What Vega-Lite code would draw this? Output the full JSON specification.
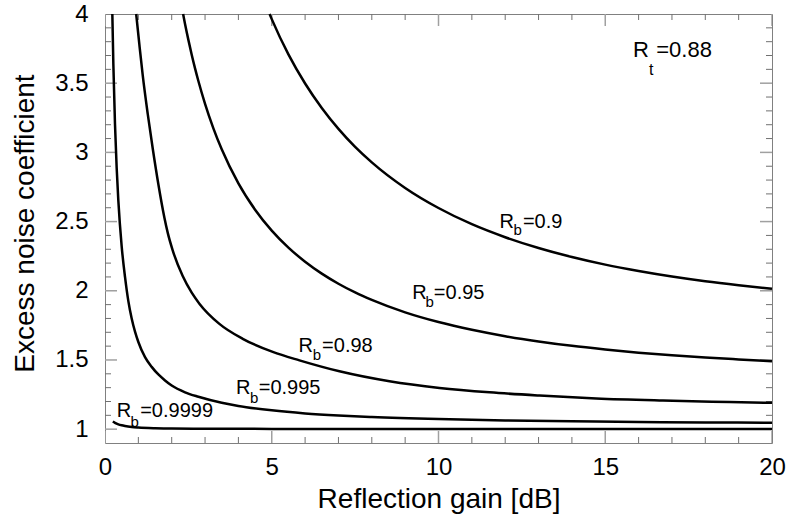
{
  "$schema": "https://vega.github.io/schema/vega-lite/v6.json",
  "width": 667,
  "height": 429,
  "autosize": {"type": "none"},
  "padding": {"left": 105, "top": 14, "right": 16, "bottom": 76},
  "background": "white",
  "config": {
    "font": "Liberation Sans",
    "view": {"stroke": "#808080", "strokeWidth": 1}
  },
  "datasets": {
    "xMajor": [{"v": 0}, {"v": 5}, {"v": 10}, {"v": 15}, {"v": 20}],
    "xMinor": [{"v": 1}, {"v": 2}, {"v": 3}, {"v": 4}, {"v": 6}, {"v": 7}, {"v": 8}, {"v": 9}, {"v": 11}, {"v": 12}, {"v": 13}, {"v": 14}, {"v": 16}, {"v": 17}, {"v": 18}, {"v": 19}],
    "yMajor": [{"v": 1}, {"v": 1.5}, {"v": 2}, {"v": 2.5}, {"v": 3}, {"v": 3.5}],
    "yMinor": [{"v": 1.1}, {"v": 1.2}, {"v": 1.3}, {"v": 1.4}, {"v": 1.6}, {"v": 1.7}, {"v": 1.8}, {"v": 1.9}, {"v": 2.1}, {"v": 2.2}, {"v": 2.3}, {"v": 2.4}, {"v": 2.6}, {"v": 2.7}, {"v": 2.8}, {"v": 2.9}, {"v": 3.1}, {"v": 3.2}, {"v": 3.3}, {"v": 3.4}, {"v": 3.6}, {"v": 3.7}, {"v": 3.8}, {"v": 3.9}],
    "curves": [
      {"Rb": "0.9", "x": 4.935, "y": 4.0},
      {"Rb": "0.9", "x": 5.0, "y": 3.963},
      {"Rb": "0.9", "x": 5.5, "y": 3.708},
      {"Rb": "0.9", "x": 6.0, "y": 3.498},
      {"Rb": "0.9", "x": 6.5, "y": 3.321},
      {"Rb": "0.9", "x": 7.0, "y": 3.17},
      {"Rb": "0.9", "x": 7.5, "y": 3.04},
      {"Rb": "0.9", "x": 8.0, "y": 2.928},
      {"Rb": "0.9", "x": 9.0, "y": 2.743},
      {"Rb": "0.9", "x": 10.0, "y": 2.598},
      {"Rb": "0.9", "x": 11.0, "y": 2.481},
      {"Rb": "0.9", "x": 12.0, "y": 2.387},
      {"Rb": "0.9", "x": 13.0, "y": 2.309},
      {"Rb": "0.9", "x": 14.0, "y": 2.244},
      {"Rb": "0.9", "x": 15.0, "y": 2.189},
      {"Rb": "0.9", "x": 16.0, "y": 2.143},
      {"Rb": "0.9", "x": 17.0, "y": 2.103},
      {"Rb": "0.9", "x": 18.0, "y": 2.069},
      {"Rb": "0.9", "x": 19.0, "y": 2.04},
      {"Rb": "0.9", "x": 20.0, "y": 2.014},
      {"Rb": "0.95", "x": 2.342, "y": 4.0},
      {"Rb": "0.95", "x": 2.4, "y": 3.928},
      {"Rb": "0.95", "x": 2.5, "y": 3.813},
      {"Rb": "0.95", "x": 2.6, "y": 3.706},
      {"Rb": "0.95", "x": 2.7, "y": 3.607},
      {"Rb": "0.95", "x": 2.8, "y": 3.516},
      {"Rb": "0.95", "x": 3.0, "y": 3.351},
      {"Rb": "0.95", "x": 3.25, "y": 3.174},
      {"Rb": "0.95", "x": 3.5, "y": 3.022},
      {"Rb": "0.95", "x": 4.0, "y": 2.776},
      {"Rb": "0.95", "x": 4.5, "y": 2.586},
      {"Rb": "0.95", "x": 5.0, "y": 2.435},
      {"Rb": "0.95", "x": 5.5, "y": 2.312},
      {"Rb": "0.95", "x": 6.0, "y": 2.21},
      {"Rb": "0.95", "x": 6.5, "y": 2.124},
      {"Rb": "0.95", "x": 7.0, "y": 2.051},
      {"Rb": "0.95", "x": 7.5, "y": 1.988},
      {"Rb": "0.95", "x": 8.0, "y": 1.934},
      {"Rb": "0.95", "x": 9.0, "y": 1.844},
      {"Rb": "0.95", "x": 10.0, "y": 1.774},
      {"Rb": "0.95", "x": 11.0, "y": 1.718},
      {"Rb": "0.95", "x": 12.0, "y": 1.672},
      {"Rb": "0.95", "x": 13.0, "y": 1.634},
      {"Rb": "0.95", "x": 14.0, "y": 1.602},
      {"Rb": "0.95", "x": 15.0, "y": 1.576},
      {"Rb": "0.95", "x": 16.0, "y": 1.553},
      {"Rb": "0.95", "x": 17.0, "y": 1.534},
      {"Rb": "0.95", "x": 18.0, "y": 1.518},
      {"Rb": "0.95", "x": 19.0, "y": 1.504},
      {"Rb": "0.95", "x": 20.0, "y": 1.491},
      {"Rb": "0.98", "x": 0.935, "y": 4.0},
      {"Rb": "0.98", "x": 1.03, "y": 3.78},
      {"Rb": "0.98", "x": 1.13, "y": 3.56},
      {"Rb": "0.98", "x": 1.28, "y": 3.28},
      {"Rb": "0.98", "x": 1.43, "y": 3.03},
      {"Rb": "0.98", "x": 1.6, "y": 2.77},
      {"Rb": "0.98", "x": 1.78, "y": 2.53},
      {"Rb": "0.98", "x": 1.88, "y": 2.42},
      {"Rb": "0.98", "x": 2.03, "y": 2.292},
      {"Rb": "0.98", "x": 2.33, "y": 2.106},
      {"Rb": "0.98", "x": 2.6, "y": 1.986},
      {"Rb": "0.98", "x": 2.83, "y": 1.907},
      {"Rb": "0.98", "x": 3.43, "y": 1.761},
      {"Rb": "0.98", "x": 4.13, "y": 1.653},
      {"Rb": "0.98", "x": 5.03, "y": 1.558},
      {"Rb": "0.98", "x": 5.83, "y": 1.497},
      {"Rb": "0.98", "x": 7.03, "y": 1.418},
      {"Rb": "0.98", "x": 8.53, "y": 1.346},
      {"Rb": "0.98", "x": 10.03, "y": 1.298},
      {"Rb": "0.98", "x": 11.53, "y": 1.266},
      {"Rb": "0.98", "x": 13.03, "y": 1.243},
      {"Rb": "0.98", "x": 14.73, "y": 1.222},
      {"Rb": "0.98", "x": 16.73, "y": 1.207},
      {"Rb": "0.98", "x": 18.73, "y": 1.196},
      {"Rb": "0.98", "x": 20.0, "y": 1.19},
      {"Rb": "0.995", "x": 0.22, "y": 4.0},
      {"Rb": "0.995", "x": 0.25, "y": 3.641},
      {"Rb": "0.995", "x": 0.3, "y": 3.201},
      {"Rb": "0.995", "x": 0.35, "y": 2.887},
      {"Rb": "0.995", "x": 0.4, "y": 2.651},
      {"Rb": "0.995", "x": 0.5, "y": 2.321},
      {"Rb": "0.995", "x": 0.6, "y": 2.1},
      {"Rb": "0.995", "x": 0.7, "y": 1.925},
      {"Rb": "0.995", "x": 0.8, "y": 1.8},
      {"Rb": "0.995", "x": 0.9, "y": 1.705},
      {"Rb": "0.995", "x": 1.0, "y": 1.63},
      {"Rb": "0.995", "x": 1.2, "y": 1.52},
      {"Rb": "0.995", "x": 1.4, "y": 1.45},
      {"Rb": "0.995", "x": 1.6, "y": 1.395},
      {"Rb": "0.995", "x": 1.8, "y": 1.352},
      {"Rb": "0.995", "x": 2.0, "y": 1.315},
      {"Rb": "0.995", "x": 2.4, "y": 1.266},
      {"Rb": "0.995", "x": 2.8, "y": 1.234},
      {"Rb": "0.995", "x": 3.5, "y": 1.191},
      {"Rb": "0.995", "x": 4.0, "y": 1.168},
      {"Rb": "0.995", "x": 5.0, "y": 1.136},
      {"Rb": "0.995", "x": 6.0, "y": 1.114},
      {"Rb": "0.995", "x": 7.0, "y": 1.099},
      {"Rb": "0.995", "x": 8.0, "y": 1.088},
      {"Rb": "0.995", "x": 10.0, "y": 1.073},
      {"Rb": "0.995", "x": 12.0, "y": 1.063},
      {"Rb": "0.995", "x": 14.0, "y": 1.057},
      {"Rb": "0.995", "x": 16.0, "y": 1.052},
      {"Rb": "0.995", "x": 18.0, "y": 1.049},
      {"Rb": "0.995", "x": 20.0, "y": 1.046},
      {"Rb": "0.9999", "x": 0.235, "y": 1.056},
      {"Rb": "0.9999", "x": 0.3, "y": 1.046},
      {"Rb": "0.9999", "x": 0.4, "y": 1.035},
      {"Rb": "0.9999", "x": 0.5, "y": 1.028},
      {"Rb": "0.9999", "x": 0.6, "y": 1.023},
      {"Rb": "0.9999", "x": 0.8, "y": 1.016},
      {"Rb": "0.9999", "x": 1.0, "y": 1.012},
      {"Rb": "0.9999", "x": 1.5, "y": 1.007},
      {"Rb": "0.9999", "x": 2.0, "y": 1.005},
      {"Rb": "0.9999", "x": 3.0, "y": 1.003},
      {"Rb": "0.9999", "x": 5.0, "y": 1.002},
      {"Rb": "0.9999", "x": 10.0, "y": 1.001},
      {"Rb": "0.9999", "x": 20.0, "y": 1.0005}
    ],
    "main": [
      {"text": "R", "x": 11.83, "y": 2.453},
      {"text": "=0.9", "x": 12.53, "y": 2.453},
      {"text": "R", "x": 9.21, "y": 1.94},
      {"text": "=0.95", "x": 9.86, "y": 1.94},
      {"text": "R", "x": 5.8, "y": 1.561},
      {"text": "=0.98", "x": 6.51, "y": 1.561},
      {"text": "R", "x": 3.93, "y": 1.255},
      {"text": "=0.995", "x": 4.61, "y": 1.255},
      {"text": "R", "x": 0.354, "y": 1.087},
      {"text": "=0.9999", "x": 1.055, "y": 1.087}
    ],
    "subs": [
      {"text": "b", "x": 12.25, "y": 2.405},
      {"text": "b", "x": 9.61, "y": 1.881},
      {"text": "b", "x": 6.23, "y": 1.501},
      {"text": "b", "x": 4.35, "y": 1.188},
      {"text": "b", "x": 0.765, "y": 1.019}
    ],
    "rtMain": [
      {"text": "R", "x": 15.83, "y": 3.69},
      {"text": "=0.88", "x": 16.53, "y": 3.69}
    ],
    "rtSub": [
      {"text": "t", "x": 16.31, "y": 3.562}
    ]
  },
  "encoding": {
    "x": {"type": "quantitative", "scale": {"domain": [0, 20], "nice": false, "zero": false}},
    "y": {"type": "quantitative", "scale": {"domain": [0.9, 4], "nice": false, "zero": false}}
  },
  "layer": [
    {
      "data": {"name": "xMajor"},
      "mark": {"type": "tick", "orient": "vertical", "color": "#a0a0a0", "thickness": 1.5, "size": 24, "clip": true, "opacity": 1},
      "encoding": {"x": {"field": "v", "type": "quantitative", "axis": null}, "y": {"datum": 0.9, "type": "quantitative", "axis": null}}
    },
    {
      "data": {"name": "xMajor"},
      "mark": {"type": "tick", "orient": "vertical", "color": "#a0a0a0", "thickness": 1.5, "size": 24, "clip": true, "opacity": 1},
      "encoding": {"x": {"field": "v", "type": "quantitative", "axis": null}, "y": {"datum": 4, "type": "quantitative", "axis": null}}
    },
    {
      "data": {"name": "xMinor"},
      "mark": {"type": "tick", "orient": "vertical", "color": "#707070", "thickness": 1, "size": 12, "clip": true, "opacity": 1},
      "encoding": {"x": {"field": "v", "type": "quantitative", "axis": null}, "y": {"datum": 0.9, "type": "quantitative", "axis": null}}
    },
    {
      "data": {"name": "xMinor"},
      "mark": {"type": "tick", "orient": "vertical", "color": "#707070", "thickness": 1, "size": 12, "clip": true, "opacity": 1},
      "encoding": {"x": {"field": "v", "type": "quantitative", "axis": null}, "y": {"datum": 4, "type": "quantitative", "axis": null}}
    },
    {
      "data": {"name": "yMajor"},
      "mark": {"type": "tick", "orient": "horizontal", "color": "#a0a0a0", "thickness": 1.5, "size": 24, "clip": true, "opacity": 1},
      "encoding": {"y": {"field": "v", "type": "quantitative", "axis": null}, "x": {"datum": 0, "type": "quantitative", "axis": null}}
    },
    {
      "data": {"name": "yMajor"},
      "mark": {"type": "tick", "orient": "horizontal", "color": "#a0a0a0", "thickness": 1.5, "size": 24, "clip": true, "opacity": 1},
      "encoding": {"y": {"field": "v", "type": "quantitative", "axis": null}, "x": {"datum": 20, "type": "quantitative", "axis": null}}
    },
    {
      "data": {"name": "yMinor"},
      "mark": {"type": "tick", "orient": "horizontal", "color": "#707070", "thickness": 1, "size": 12, "clip": true, "opacity": 1},
      "encoding": {"y": {"field": "v", "type": "quantitative", "axis": null}, "x": {"datum": 0, "type": "quantitative", "axis": null}}
    },
    {
      "data": {"name": "yMinor"},
      "mark": {"type": "tick", "orient": "horizontal", "color": "#707070", "thickness": 1, "size": 12, "clip": true, "opacity": 1},
      "encoding": {"y": {"field": "v", "type": "quantitative", "axis": null}, "x": {"datum": 20, "type": "quantitative", "axis": null}}
    },
    {
      "data": {"name": "curves"},
      "mark": {"type": "line", "color": "black", "strokeWidth": 2.5, "interpolate": "monotone"},
      "encoding": {
        "detail": {"field": "Rb", "type": "nominal"},
        "x": {
          "field": "x", "type": "quantitative",
          "axis": {
            "orient": "bottom",
            "values": [0, 5, 10, 15, 20],
            "ticks": false,
            "domain": false,
            "grid": false,
            "labelFlush": false,
            "labelOverlap": false,
            "labelFontSize": 24,
            "labelColor": "black",
            "labelBaseline": "alphabetic",
            "labelPadding": 31,
            "title": "Reflection gain [dB]",
            "titleFontSize": 28,
            "titleFontWeight": "normal",
            "titleColor": "black",
            "titleBaseline": "alphabetic",
            "titleY": 64
          }
        },
        "y": {
          "field": "y", "type": "quantitative",
          "axis": {
            "orient": "left",
            "values": [1, 1.5, 2, 2.5, 3, 3.5, 4],
            "format": "~g",
            "ticks": false,
            "domain": false,
            "grid": false,
            "labelOverlap": false,
            "labelFlush": false,
            "labelFontSize": 24,
            "labelColor": "black",
            "labelBaseline": "middle",
            "labelPadding": 17,
            "title": "Excess noise coefficient",
            "titleFontSize": 28,
            "titleFontWeight": "normal",
            "titleColor": "black",
            "titleAngle": 270,
            "titleAlign": "center",
            "titleBaseline": "alphabetic",
            "titleX": -72,
            "titleY": 209
          }
        }
      }
    },
    {
      "data": {"name": "main"},
      "mark": {"type": "text", "align": "left", "baseline": "alphabetic", "fontSize": 20, "color": "black"},
      "encoding": {"x": {"field": "x", "type": "quantitative", "axis": null}, "y": {"field": "y", "type": "quantitative", "axis": null}, "text": {"field": "text"}}
    },
    {
      "data": {"name": "subs"},
      "mark": {"type": "text", "align": "left", "baseline": "alphabetic", "fontSize": 15, "color": "black"},
      "encoding": {"x": {"field": "x", "type": "quantitative", "axis": null}, "y": {"field": "y", "type": "quantitative", "axis": null}, "text": {"field": "text"}}
    },
    {
      "data": {"name": "rtMain"},
      "mark": {"type": "text", "align": "left", "baseline": "alphabetic", "fontSize": 22, "color": "black"},
      "encoding": {"x": {"field": "x", "type": "quantitative", "axis": null}, "y": {"field": "y", "type": "quantitative", "axis": null}, "text": {"field": "text"}}
    },
    {
      "data": {"name": "rtSub"},
      "mark": {"type": "text", "align": "left", "baseline": "alphabetic", "fontSize": 16, "color": "black"},
      "encoding": {"x": {"field": "x", "type": "quantitative", "axis": null}, "y": {"field": "y", "type": "quantitative", "axis": null}, "text": {"field": "text"}}
    }
  ],
  "resolve": {"axis": {"x": "independent", "y": "independent"}}
}
